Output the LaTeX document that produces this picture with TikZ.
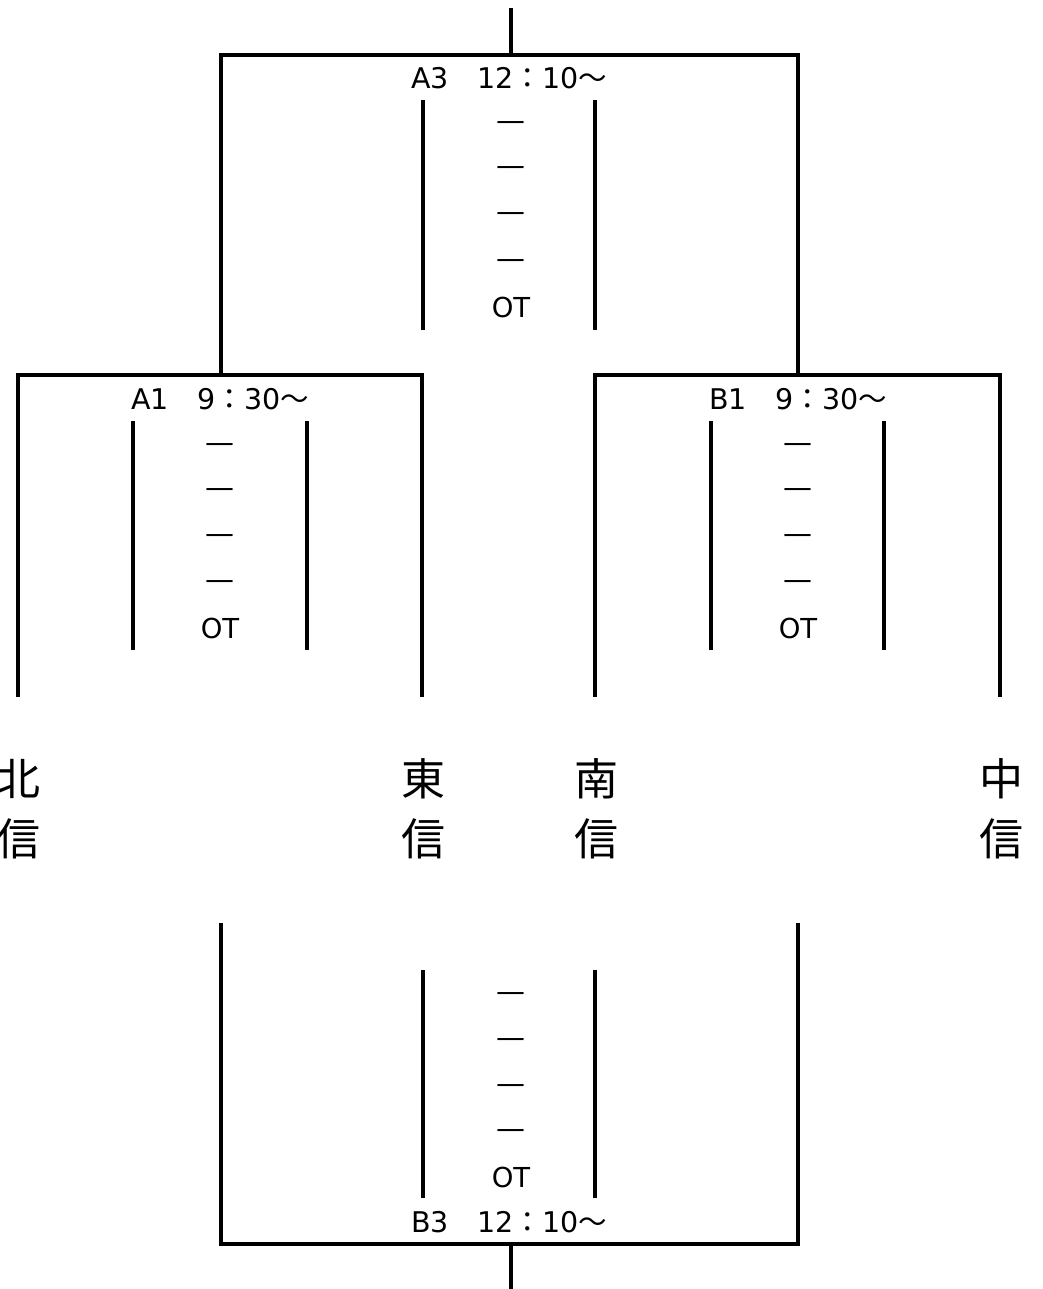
\documentclass[tikz,border=0pt]{standalone}
\usepackage{fontspec}
\setmainfont{DejaVu Sans}
\newfontfamily\cjk{Noto Sans CJK JP}
\begin{document}
\begin{tikzpicture}[x=1pt,y=-1pt,
  wire/.style={line width=3.2pt,line cap=rect},
  inner/.style={line width=3.2pt},
  lbl/.style={inner sep=0pt,anchor=base,font=\fontsize{28.5}{30}\selectfont},
  ottext/.style={inner sep=0pt,anchor=base,font=\fontsize{27.5}{30}\selectfont},
  dsh/.style={inner sep=0pt,anchor=base,font=\fontsize{29}{30}\selectfont},
  team/.style={inner sep=0pt,anchor=base,font=\cjk\fontsize{44}{50}\selectfont}]
\useasboundingbox (0,0) rectangle (1042,1289);
% coordinates of bracket corners
\coordinate (top) at (511,10);
\coordinate (a3m) at (511,55);
\coordinate (a3l) at (221,55);
\coordinate (a3r) at (798,55);
\coordinate (a1t) at (221,375);
\coordinate (b1t) at (798,375);
\coordinate (a1l) at (18,375);
\coordinate (a1r) at (422,375);
\coordinate (a1lb) at (18,695);
\coordinate (a1rb) at (422,695);
\coordinate (b1l) at (595,375);
\coordinate (b1r) at (1000,375);
\coordinate (b1lb) at (595,695);
\coordinate (b1rb) at (1000,695);
\coordinate (b3lt) at (221,925);
\coordinate (b3rt) at (798,925);
\coordinate (b3l) at (221,1244);
\coordinate (b3r) at (798,1244);
\coordinate (b3m) at (511,1244);
\coordinate (bot) at (511,1292);
% brackets
\draw[wire] (top) -- (a3m);
\draw[wire] (a1t) -- (a3l) -- (a3r) -- (b1t);
\draw[wire] (a1lb) -- (a1l) -- (a1r) -- (a1rb);
\draw[wire] (b1lb) -- (b1l) -- (b1r) -- (b1rb);
\draw[wire] (b3lt) -- (b3l) -- (b3r) -- (b3rt);
\draw[wire] (b3m) -- (bot);
% inner score lines
\draw[inner] (423,100) -- (423,330);
\draw[inner] (595,100) -- (595,330);
\draw[inner] (133,421) -- (133,650);
\draw[inner] (307,421) -- (307,650);
\draw[inner] (711,421) -- (711,650);
\draw[inner] (884,421) -- (884,650);
\draw[inner] (423,970) -- (423,1198);
\draw[inner] (595,970) -- (595,1198);
% labels
\node[lbl] (la3) at (509,89) {A3{\cjk 　}12{\cjk ：}10{\cjk ～}};
\node[lbl] (la1) at (220,409) {A1{\cjk 　}9{\cjk ：}30{\cjk ～}};
\node[lbl] (lb1) at (798,409) {B1{\cjk 　}9{\cjk ：}30{\cjk ～}};
\node[lbl] (lb3) at (509,1232) {B3{\cjk 　}12{\cjk ：}10{\cjk ～}};
% score dashes
\foreach \y [count=\i] in {123,168,214,260}
  \node[dsh] (da3\i) at (511,\y+8) {—};
\node[ottext] (ota3) at (511,317) {OT};
\foreach \y [count=\i] in {444,489,535,581}{
  \node[dsh] (da1\i) at (220,\y+8) {—};
  \node[dsh] (db1\i) at (798,\y+8) {—};
}
\node[ottext] (ota1) at (220,638) {OT};
\node[ottext] (otb1) at (798,638) {OT};
\foreach \y [count=\i] in {993,1039,1085,1130}
  \node[dsh] (db3\i) at (511,\y+8) {—};
\node[ottext] (otb3) at (511,1187) {OT};
% teams
\node[team] (t1a) at (18,795) {北};
\node[team] (t1b) at (18,855) {信};
\node[team] (t2a) at (423,795) {東};
\node[team] (t2b) at (423,855) {信};
\node[team] (t3a) at (596,795) {南};
\node[team] (t3b) at (596,855) {信};
\node[team] (t4a) at (1001,795) {中};
\node[team] (t4b) at (1001,855) {信};
\end{tikzpicture}
\end{document}
